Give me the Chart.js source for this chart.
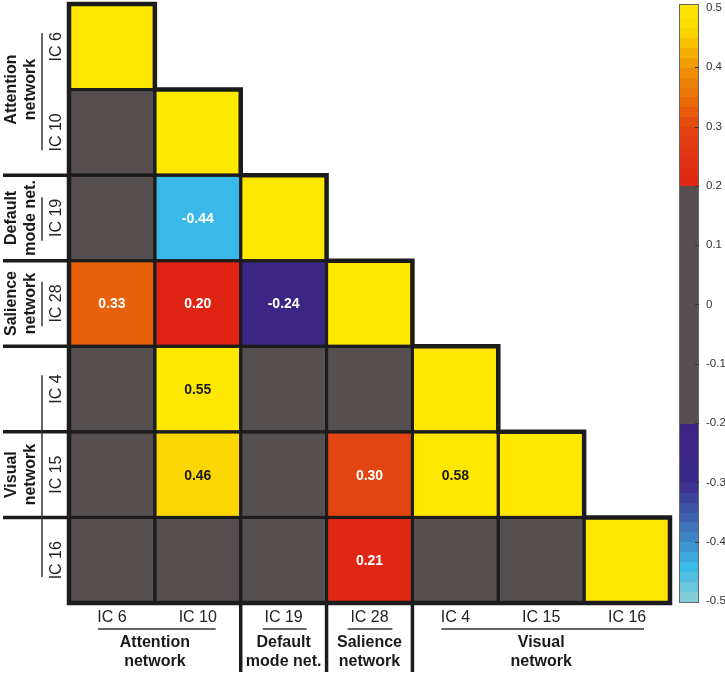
<!DOCTYPE html>
<html>
<head>
<meta charset="utf-8">
<script src="https://cdn.jsdelivr.net/npm/chart.js@4/dist/chart.umd.min.js"></script>
<style>
  html, body { margin: 0; padding: 0; background: #ffffff; }
  #wrap { width: 725px; height: 673px; position: relative; }
</style>
</head>
<body>
<div id="wrap"><canvas id="c" width="725" height="673"></canvas></div>
<script>
// ---------------- DATA ----------------
const icLabels = ['IC 6', 'IC 10', 'IC 19', 'IC 28', 'IC 4', 'IC 15', 'IC 16'];
const groupNames = [['Attention', 'network'], ['Default', 'mode net.'], ['Salience', 'network'], ['Visual', 'network']];
const groupSizes = [2, 1, 1, 3];
// lower-triangular correlation rows (null = not significant, shown grey; 1 = diagonal)
const rowIC6  = [1];
const rowIC10 = [null, 1];
const rowIC19 = [null, -0.44, 1];
const rowIC28 = [0.33, 0.20, -0.24, 1];
const rowIC4  = [null, 0.55, null, null, 1];
const rowIC15 = [null, 0.46, null, 0.30, 0.58, 1];
const rowIC16 = [null, null, null, 0.21, null, null, 1];
const rows = [rowIC6, rowIC10, rowIC19, rowIC28, rowIC4, rowIC15, rowIC16];
const cbTicks = [-0.5, -0.4, -0.3, -0.2, -0.1, 0, 0.1, 0.2, 0.3, 0.4, 0.5];

// ---------------- STYLE ----------------
const FONT = '"Liberation Sans", Arial, Helvetica, sans-serif';
const GRAY = [85, 79, 79];
const LINE = '#1c1c1c';
const CB_MIN = -0.5034, CB_MAX = 0.5067;   // colour bar extends slightly past the tick range
const posStops = [[0.20, [224, 36, 20]], [0.30, [226, 68, 18]], [0.33, [232, 96, 10]], [0.40, [240, 148, 6]], [0.46, [252, 214, 0]], [0.50, [255, 232, 0]]];
const negStops = [[-0.50, [140, 208, 214]], [-0.44, [58, 185, 232]], [-0.40, [62, 140, 200]], [-0.35, [62, 92, 170]], [-0.30, [58, 42, 140]], [-0.24, [59, 37, 133]], [-0.20, [60, 34, 128]]];
const groupInsets = [[29, 25], [22, 20], [21, 20], [29, 26]];
const leftRuleRows = [2, 3, 4, 5, 6];   // row boundaries with rules extending left
const bottomRuleCols = [2, 3, 4];       // column boundaries with rules extending down

function interp(stops, v) {
  if (v <= stops[0][0]) return stops[0][1];
  for (let i = 1; i < stops.length; i++) {
    if (v <= stops[i][0]) {
      const [a, ca] = stops[i - 1], [b, cb] = stops[i];
      const t = (v - a) / (b - a);
      return ca.map((x, k) => Math.round(x + (cb[k] - x) * t));
    }
  }
  return stops[stops.length - 1][1];
}
function cmap(v) {
  let c;
  if (v === null || v === undefined) c = GRAY;
  else if (v >= 0.2) c = interp(posStops, v);
  else if (v <= -0.2) c = interp(negStops, v);
  else c = GRAY;
  return `rgb(${c[0]},${c[1]},${c[2]})`;
}

const N = icLabels.length;
const datasets = rows.map((row, r) => {
  const data = [], colors = [];
  for (let c = 0; c < N; c++) {
    if (c < row.length) { data.push([N - r - 1, N - r]); colors.push(cmap(row[c])); }
    else { data.push(null); colors.push('rgba(0,0,0,0)'); }
  }
  return { label: icLabels[r], data, backgroundColor: colors, borderWidth: 0, grouped: false,
           barPercentage: 1, categoryPercentage: 1, borderSkipped: false };
});

const drawPlugin = {
  id: 'matrixDecor',
  afterDatasetsDraw(chart) {
    const ctx = chart.ctx, xs = chart.scales.x, ys = chart.scales.y, cs = chart.scales.cb;
    const colL = c => xs.getPixelForValue(c) - (xs.getPixelForValue(1) - xs.getPixelForValue(0)) / 2;
    const colR = c => colL(c + 1);
    const rowT = r => ys.getPixelForValue(N - r);
    const rowB = r => ys.getPixelForValue(N - r - 1);
    ctx.save();
    // cell values
    ctx.textAlign = 'center'; ctx.textBaseline = 'middle';
    ctx.font = 'bold 14px ' + FONT;
    rows.forEach((row, r) => row.forEach((v, c) => {
      if (c === r || v === null) return;
      ctx.fillStyle = v > 0.4 ? '#1a1a1a' : '#ffffff';
      ctx.fillText(v.toFixed(2), (colL(c) + colR(c)) / 2, (rowT(r) + rowB(r)) / 2 + 1);
    }));
    // inner cell lines
    ctx.strokeStyle = LINE; ctx.lineWidth = 3;
    rows.forEach((row, r) => row.forEach((v, c) => {
      ctx.strokeRect(colL(c), rowT(r), colR(c) - colL(c), rowB(r) - rowT(r));
    }));
    // staircase outline
    ctx.lineWidth = 4.5; ctx.lineJoin = 'miter';
    ctx.beginPath();
    ctx.moveTo(colL(0), rowT(0));
    for (let r = 0; r < N; r++) {
      ctx.lineTo(colR(r), rowT(r));
      ctx.lineTo(colR(r), rowB(r));
    }
    ctx.lineTo(colL(0), rowB(N - 1));
    ctx.closePath();
    ctx.stroke();
    // rules extending left and down
    ctx.lineWidth = 3.5;
    leftRuleRows.forEach(r => { ctx.beginPath(); ctx.moveTo(3, rowT(r)); ctx.lineTo(colL(0), rowT(r)); ctx.stroke(); });
    bottomRuleCols.forEach(c => { ctx.beginPath(); ctx.moveTo(colL(c), rowB(N - 1)); ctx.lineTo(colL(c), 672); ctx.stroke(); });

    // axis labels
    ctx.fillStyle = '#222';
    ctx.font = '16px ' + FONT;
    icLabels.forEach((lab, i) => {
      ctx.textAlign = 'center'; ctx.textBaseline = 'middle';
      ctx.fillText(lab, (colL(i) + colR(i)) / 2, 618);
      ctx.save();
      ctx.translate(57, (rowT(i) + rowB(i)) / 2);
      ctx.rotate(-Math.PI / 2);
      ctx.fillText(lab, 0, 0);
      ctx.restore();
    });
    // group labels + separators
    let start = 0;
    groupNames.forEach((g, gi) => {
      const end = start + groupSizes[gi] - 1;
      const [i0, i1] = groupInsets[gi];
      const x0 = colL(start), x1 = colR(end), y0 = rowT(start), y1 = rowB(end);
      ctx.strokeStyle = '#333'; ctx.lineWidth = 1.5;
      ctx.beginPath(); ctx.moveTo(x0 + i0, 629); ctx.lineTo(x1 - i1, 629); ctx.stroke();
      ctx.beginPath(); ctx.moveTo(42, y0 + i0); ctx.lineTo(42, y1 - i1); ctx.stroke();
      ctx.font = 'bold 16px ' + FONT; ctx.fillStyle = '#1a1a1a';
      ctx.textAlign = 'center'; ctx.textBaseline = 'middle';
      const cx = (x0 + x1) / 2, cy = (y0 + y1) / 2;
      ctx.fillText(g[0], cx, 643);
      ctx.fillText(g[1], cx, 662);
      ctx.save();
      ctx.translate(12, cy); ctx.rotate(-Math.PI / 2);
      ctx.fillText(g[0], 0, 0);
      ctx.fillText(g[1], 0, 19);
      ctx.restore();
      start = end + 1;
    });

    // colour bar
    const bx0 = 679, bx1 = 699;
    const NB = 60;
    for (let k = 0; k < NB; k++) {
      const v0 = -0.5 + k / NB, v1 = -0.5 + (k + 1) / NB;
      const vc = (v0 + v1) / 2;
      ctx.fillStyle = cmap(Math.abs(vc) < 0.2 ? null : vc);
      const ya = cs.getPixelForValue(k === NB - 1 ? cs.max : v1), yb = cs.getPixelForValue(k === 0 ? cs.min : v0);
      ctx.fillRect(bx0, Math.floor(ya), bx1 - bx0, Math.ceil(yb) - Math.floor(ya));
    }
    ctx.strokeStyle = '#666'; ctx.lineWidth = 1;
    ctx.strokeRect(bx0 + 0.5, cs.getPixelForValue(cs.max) + 0.5, bx1 - bx0 - 1, cs.getPixelForValue(cs.min) - cs.getPixelForValue(cs.max) - 1);
    ctx.strokeStyle = '#333';
    cbTicks.forEach(t => {
      if (Math.abs(t) === 0.5) return;
      const y = Math.round(cs.getPixelForValue(t)) + 0.5;
      ctx.beginPath(); ctx.moveTo(bx1 - 4, y); ctx.lineTo(bx1, y); ctx.stroke();
    });
    ctx.restore();
  }
};

new Chart(document.getElementById('c'), {
  type: 'bar',
  data: { labels: icLabels, datasets },
  options: {
    responsive: false, animation: false,
    layout: { padding: { left: 69, top: 4, right: 0, bottom: 70 } },
    plugins: { legend: { display: false }, tooltip: { enabled: false } },
    scales: {
      x: { type: 'category', display: false, offset: true, grid: { display: false } },
      y: { type: 'linear', display: false, min: 0, max: N },
      cb: {
        type: 'linear', position: 'right', min: CB_MIN, max: CB_MAX,
        grid: { display: true, drawOnChartArea: false, drawTicks: true, tickLength: 36, color: 'rgba(0,0,0,0)' },
        border: { display: false },
        afterBuildTicks: s => { s.ticks = cbTicks.map(v => ({ value: v })); },
        afterFit: s => { s.width = 55; },
        ticks: { padding: 0, color: '#333', font: { family: FONT, size: 11.5, lineHeight: 0.5 },
                 callback: v => (v === 0 ? '0' : Number(v).toFixed(1)) }
      }
    }
  },
  plugins: [drawPlugin]
});
</script>
</body>
</html>
